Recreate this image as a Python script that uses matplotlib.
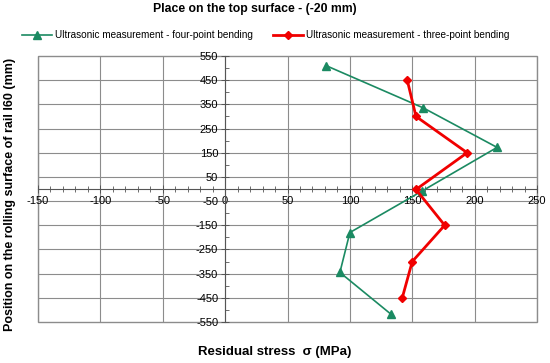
import matplotlib.pyplot as plt
from matplotlib.ticker import MultipleLocator, FixedLocator
from matplotlib.patches import Rectangle

plt.rcParams['font.family'] = ['Liberation Sans', 'DejaVu Sans']
plt.rcParams['axes.unicode_minus'] = False

# four-point bending (green)
four_stress = [81, 159, 218, 158, 100, 92, 133]
four_pos = [510, 335, 172, -8, -180, -345, -518]
# three-point bending (red)
three_stress = [146, 153, 194, 153, 176, 150, 142]
three_pos = [450, 300, 150, -2, -150, -300, -450]

y_ticks = [550, 450, 350, 250, 150, 50, -50, -150, -250, -350, -450, -550]
x_ticks = [-150, -100, -50, 0, 50, 100, 150, 200, 250]

green = '#1b8a62'
red = '#f00000'
grid_c = '#8c8c8c'

fig = plt.figure(figsize=(5.5, 3.63), dpi=100)
ax = fig.add_axes([38 / 550, 1 - 322 / 363, 499 / 550, 266 / 363])

ax.set_xlim(-150, 250)
ax.set_ylim(-550, 550)

ax.plot(four_stress, four_pos, color=green, lw=1.2, marker='^', ms=5.5,
        label='Ultrasonic measurement - four-point bending', zorder=4)
ax.plot(three_stress, three_pos, color=red, lw=2.0, marker='D', ms=4.5,
        label='Ultrasonic measurement - three-point bending', zorder=5)

# spines crossing at zero
ax.spines['left'].set_position(('data', 0))
ax.spines['bottom'].set_position(('data', 0))
ax.spines['top'].set_visible(False)
ax.spines['right'].set_visible(False)
for s in ['left', 'bottom']:
    ax.spines[s].set_color('#555555')
    ax.spines[s].set_linewidth(0.8)

ax.xaxis.set_major_locator(FixedLocator(x_ticks))
ax.xaxis.set_minor_locator(MultipleLocator(10))
ax.yaxis.set_major_locator(FixedLocator(y_ticks))
ax.yaxis.set_minor_locator(FixedLocator(list(range(-500, 501, 100))))

ax.tick_params(axis='x', which='major', direction='inout', length=6, width=0.7,
               colors='#555555', labelcolor='black', labelsize=8, pad=2)
ax.tick_params(axis='x', which='minor', direction='inout', length=4, width=0.6,
               colors='#555555')
ax.tick_params(axis='y', which='major', direction='inout', length=6, width=0.7,
               colors='#555555', labelcolor='black', labelsize=8, pad=2)
ax.tick_params(axis='y', which='minor', direction='in', length=3, width=0.6,
               colors='#555555')

# grid lines
for gx in x_ticks:
    ax.axvline(gx, color=grid_c, lw=0.8, zorder=0)
for gy in range(-450, 451, 100):
    ax.axhline(gy, color=grid_c, lw=0.8, zorder=0)

# outer frame
ax.add_patch(Rectangle((0, 0), 1, 1, transform=ax.transAxes, fill=False,
                       edgecolor=grid_c, lw=1.0, zorder=1, clip_on=False))

fig.text(255 / 550, 1 - 9 / 363, 'Place on the top surface - (-20 mm)',
         ha='center', va='center', fontsize=8.8, fontweight='bold')
fig.text(275 / 550, 1 - 352 / 363, 'Residual stress  σ (MPa)',
         ha='center', va='center', fontsize=9.5, fontweight='bold')
fig.text(10 / 550, 1 - 194 / 363,
         'Position on the rolling surface of rail I60 (mm)',
         ha='center', va='center', rotation=90, fontsize=9.0, fontweight='bold')

fig.legend(loc='center', bbox_to_anchor=(266 / 550, 1 - 35 / 363), ncol=2,
           frameon=False, fontsize=7.2, handlelength=3.0, handletextpad=0.3,
           columnspacing=2.0)

fig.savefig('out.png', dpi=100)
